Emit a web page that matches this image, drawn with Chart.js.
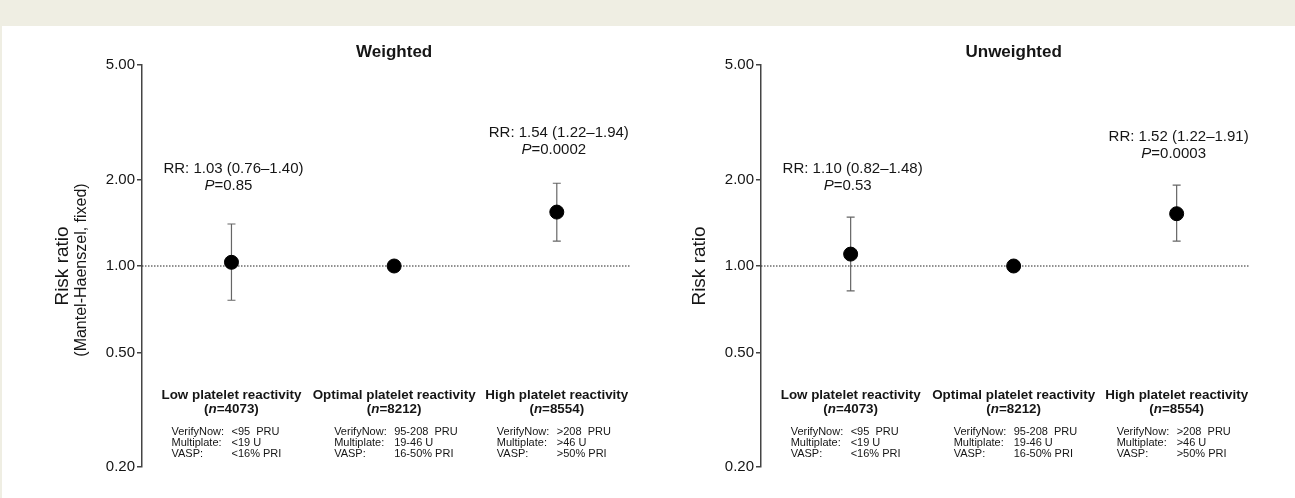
<!DOCTYPE html>
<html>
<head>
<meta charset="utf-8">
<script src="https://cdn.jsdelivr.net/npm/chart.js@4.4.1/dist/chart.umd.min.js"></script>
<style>
html, body { margin:0; padding:0; background:#efeee3; width:1295px; height:498px; overflow:hidden; }
#card { position:absolute; left:2px; top:26px; width:1293px; height:472px; background:#fff; }
canvas { position:absolute; top:0; }
#left { left:0; }
#right { left:650px; }
</style>
</head>
<body>
<div id="card"></div>
<canvas id="left" width="650" height="498"></canvas>
<canvas id="right" width="645" height="498"></canvas>
<script>
// data
var categories = ['Low platelet reactivity', 'Optimal platelet reactivity', 'High platelet reactivity'];
var sampleSizes = ['4073', '8212', '8554'];
var verifyNow = ['<95  PRU', '95-208  PRU', '>208  PRU'];
var multiplate = ['<19 U', '19-46 U', '>46 U'];
var vasp = ['<16% PRI', '16-50% PRI', '>50% PRI'];

var weightedRR = [1.03, 1.00, 1.54];
var weightedLo = [0.76, null, 1.22];
var weightedHi = [1.40, null, 1.94];
var weightedP = ['0.85', null, '0.0002'];

var unweightedRR = [1.10, 1.00, 1.52];
var unweightedLo = [0.82, null, 1.22];
var unweightedHi = [1.48, null, 1.91];
var unweightedP = ['0.53', null, '0.0003'];

var yTicks = [0.20, 0.50, 1.00, 2.00, 5.00];

var FONT = '"Liberation Sans", Arial, sans-serif';
var INK = '#151515';
var X_MIN = -0.55, X_MAX = 2.45;

// draws a list of text runs (different fonts) centred on cx
function drawRuns(ctx, runs, cx, cy) {
	var total = 0;
	runs.forEach(function(r) { ctx.font = r.font; r.w = ctx.measureText(r.text).width; total += r.w; });
	var x = cx - total / 2;
	ctx.textAlign = 'left';
	ctx.textBaseline = 'middle';
	runs.forEach(function(r) { ctx.font = r.font; ctx.fillText(r.text, x, cy); x += r.w; });
}

function forestPlugin(cfg) {
	return {
		id: 'forest',
		beforeDatasetsDraw: function(chart) {
			var ctx = chart.ctx, xs = chart.scales.x, ys = chart.scales.y;
			ctx.save();
			ctx.strokeStyle = '#666';
			ctx.lineWidth = 1.2;
			for (var i = 0; i < cfg.rr.length; i++) {
				if (cfg.lo[i] == null) continue;
				var x = xs.getPixelForValue(i);
				var y1 = ys.getPixelForValue(cfg.lo[i]);
				var y2 = ys.getPixelForValue(cfg.hi[i]);
				ctx.beginPath();
				ctx.moveTo(x, y1); ctx.lineTo(x, y2);
				ctx.moveTo(x - 4, y1); ctx.lineTo(x + 4, y1);
				ctx.moveTo(x - 4, y2); ctx.lineTo(x + 4, y2);
				ctx.stroke();
			}
			ctx.restore();
		},
		afterDraw: function(chart) {
			var ctx = chart.ctx, xs = chart.scales.x, ys = chart.scales.y, area = chart.chartArea;
			ctx.save();
			ctx.fillStyle = INK;

			// panel title
			drawRuns(ctx, [{ text: cfg.title, font: 'bold 17px ' + FONT }], xs.getPixelForValue(1), 52);

			// RR and P annotations above the error bars
			for (var i = 0; i < cfg.rr.length; i++) {
				if (cfg.p[i] == null) continue;
				var x = xs.getPixelForValue(i);
				var capY = ys.getPixelForValue(cfg.hi[i]);
				var gap = cfg.gap[i];
				var rrText = 'RR: ' + cfg.rr[i].toFixed(2) + ' (' + cfg.lo[i].toFixed(2) + '\u2013' + cfg.hi[i].toFixed(2) + ')';
				drawRuns(ctx, [{ text: rrText, font: '15px ' + FONT }], x + 2, capY - gap - 17);
				drawRuns(ctx, [{ text: 'P', font: 'italic 15px ' + FONT }, { text: '=' + cfg.p[i], font: '15px ' + FONT }], x - 3, capY - gap);
			}

			// category labels under the plot
			for (var j = 0; j < categories.length; j++) {
				var cx = xs.getPixelForValue(j);
				drawRuns(ctx, [{ text: categories[j], font: 'bold 13.4px ' + FONT }], cx, 395);
				drawRuns(ctx, [
					{ text: '(', font: 'bold 13.4px ' + FONT },
					{ text: 'n', font: 'italic bold 13.4px ' + FONT },
					{ text: '=' + sampleSizes[j] + ')', font: 'bold 13.4px ' + FONT }
				], cx, 409);
				ctx.font = '11px ' + FONT;
				ctx.textAlign = 'left';
				ctx.textBaseline = 'middle';
				ctx.fillText('VerifyNow:', cx - 60, 432);
				ctx.fillText(verifyNow[j], cx, 432);
				ctx.fillText('Multiplate:', cx - 60, 443);
				ctx.fillText(multiplate[j], cx, 443);
				ctx.fillText('VASP:', cx - 60, 454);
				ctx.fillText(vasp[j], cx, 454);
			}

			// y axis title
			var midY = (area.top + area.bottom) / 2;
			ctx.translate(cfg.titleX, midY);
			ctx.rotate(-Math.PI / 2);
			drawRuns(ctx, [{ text: 'Risk ratio', font: '19px ' + FONT }], 0, 0);
			if (cfg.subtitle) {
				drawRuns(ctx, [{ text: cfg.subtitle, font: '16px ' + FONT }], -4, 19);
			}
			ctx.restore();
		}
	};
}

function buildChart(id, cfg) {
	var points = cfg.rr.map(function(v, i) { return { x: i, y: v }; });
	return new Chart(document.getElementById(id), {
		type: 'scatter',
		data: {
			datasets: [
				{ data: points, pointRadius: 7, pointHoverRadius: 7, backgroundColor: '#000', borderColor: '#000', order: 0 },
				{ type: 'line', showLine: true, data: [{ x: X_MIN, y: 1 }, { x: X_MAX, y: 1 }],
				  borderColor: '#222', borderWidth: 1, borderDash: [1.5, 1.5], pointRadius: 0, order: 1 }
			]
		},
		options: {
			responsive: false,
			animation: false,
			layout: { padding: { left: cfg.padLeft, right: cfg.padRight, top: 65, bottom: 31 } },
			plugins: { legend: { display: false }, tooltip: { enabled: false } },
			scales: {
				x: { type: 'linear', min: X_MIN, max: X_MAX, display: false },
				y: {
					type: 'logarithmic', min: 0.2, max: 5,
					afterBuildTicks: function(s) { s.ticks = yTicks.map(function(v) { return { value: v }; }); },
					afterFit: function(s) { s.width = 60; },
					ticks: {
						callback: function(v) { return Number(v).toFixed(2); },
						font: { family: FONT, size: 15 }, color: INK, padding: 2, autoSkip: false
					},
					grid: { drawOnChartArea: false, drawTicks: true, tickLength: 5, color: '#444', lineWidth: 1.5 },
					border: { display: true, color: '#444', width: 1.5 }
				}
			}
		},
		plugins: [forestPlugin(cfg)]
	});
}

buildChart('left', {
	title: 'Weighted', rr: weightedRR, lo: weightedLo, hi: weightedHi, p: weightedP, gap: [38, null, 33],
	padLeft: 82, padRight: 20, titleX: 63, subtitle: '(Mantel-Haenszel, fixed)'
});
buildChart('right', {
	title: 'Unweighted', rr: unweightedRR, lo: unweightedLo, hi: unweightedHi, p: unweightedP, gap: [31, null, 31],
	padLeft: 51, padRight: 45, titleX: 50, subtitle: null
});
</script>
</body>
</html>
